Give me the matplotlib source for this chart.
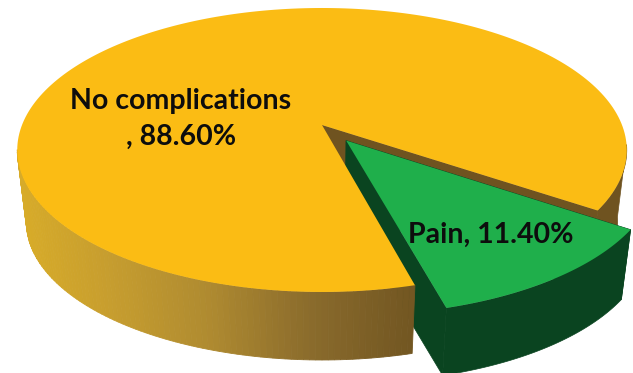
import numpy as np
import matplotlib
matplotlib.use('Agg')
import matplotlib.pyplot as plt
from matplotlib.colors import LinearSegmentedColormap

labels = ['No complications\n, 88.60%', 'Pain, 11.40%']
values = [88.60, 11.40]

# Pain slice starts here, going counter-clockwise (degrees)
START_ANGLE = -75.1
EXPLODE = 0.136

# Perspective of the disc, in pixels of the 633x373 picture
CX = 322
TOP_CY = 125
BOTTOM_CY = 198
RX = 300
RY = 137.6
PERSP = 0.176
BOTTOM_SCALE = 0.97

YELLOW = '#FBBC14'
YELLOW_WALL = '#6F5320'
GREEN = '#1FAF4B'
DARK_GREEN = '#0A4420'

side_cmap = LinearSegmentedColormap.from_list(
    'side', ['#D9AD28', '#C69D2F', '#AE8A30', '#8A6B2C', '#735722'])


def project(u, v, bottom=False):
    w = 1 + PERSP * v
    if bottom:
        return CX + BOTTOM_SCALE * RX * u / w, BOTTOM_CY - BOTTOM_SCALE * RY * v / w
    return CX + RX * u / w, TOP_CY - RY * v / w


def rim(a0, a1, off=(0, 0), n=120):
    t = np.radians(np.linspace(a0, a1, n))
    return np.cos(t) + off[0], np.sin(t) + off[1]


def wedge_top(a0, a1, off=(0, 0)):
    u, v = rim(a0, a1, off, n=240)
    u = np.r_[off[0], u]
    v = np.r_[off[1], v]
    return project(u, v)


def band(a0, a1, off=(0, 0), n=120):
    u, v = rim(a0, a1, off, n)
    x1, y1 = project(u, v)
    x2, y2 = project(u, v, bottom=True)
    return np.r_[x1, x2[::-1]], np.r_[y1, y2[::-1]]


def radial_wall(angle, off=(0, 0)):
    t = np.radians(angle)
    u = np.array([off[0], np.cos(t) + off[0]])
    v = np.array([off[1], np.sin(t) + off[1]])
    x1, y1 = project(u, v)
    x2, y2 = project(u, v, bottom=True)
    return np.r_[x1, x2[::-1]], np.r_[y1, y2[::-1]]


pain_span = values[1] / sum(values) * 360
pain_end = START_ANGLE + pain_span
pain_mid = np.radians(START_ANGLE + pain_span / 2)
off = (EXPLODE * np.cos(pain_mid), EXPLODE * np.sin(pain_mid))

fig = plt.figure(figsize=(6.33, 3.73), dpi=100)
ax = fig.add_axes([0, 0, 1, 1])
ax.set_xlim(0, 633)
ax.set_ylim(373, 0)
ax.axis('off')

# yellow cut wall and the bit of outer side seen behind the green slice
ax.fill(*radial_wall(pain_end), color=YELLOW_WALL, lw=0.5, zorder=1)
ax.fill(*band(pain_end, -8), color=YELLOW_WALL, lw=0.5, zorder=1)

# green solid
ax.fill(*radial_wall(START_ANGLE, off), color=DARK_GREEN, lw=0.5, zorder=2)
ax.fill(*radial_wall(pain_end, off), color=DARK_GREEN, lw=0.5, zorder=2)
ax.fill(*band(START_ANGLE, pain_end, off), color=DARK_GREEN, lw=0.5, zorder=2)

# yellow front side, shaded from left to right
for a in np.arange(190, 360 + START_ANGLE, 1.0):
    a1 = min(a + 1.0, 360 + START_ANGLE)
    xs, ys = band(a, a1, n=4)
    c = side_cmap((xs.mean() - 15) / (410 - 15))
    ax.fill(xs, ys, color=c, lw=0.6, zorder=3)

# top faces
ax.fill(*wedge_top(pain_end, 360 + START_ANGLE), color=YELLOW, lw=0, zorder=4)
ax.fill(*wedge_top(START_ANGLE, pain_end, off), color=GREEN, lw=0, zorder=5)

ax.text(181, 119, labels[0], ha='center', va='center', fontsize=20.5,
        fontweight='bold', family='Lato', color='#0d0d0d', linespacing=1.5, zorder=6)
ax.text(491, 235, labels[1], ha='center', va='center', fontsize=20.5,
        fontweight='bold', family='Lato', color='#0d0d0d', zorder=6)

fig.savefig('out.png', dpi=100)
plt.close(fig)
